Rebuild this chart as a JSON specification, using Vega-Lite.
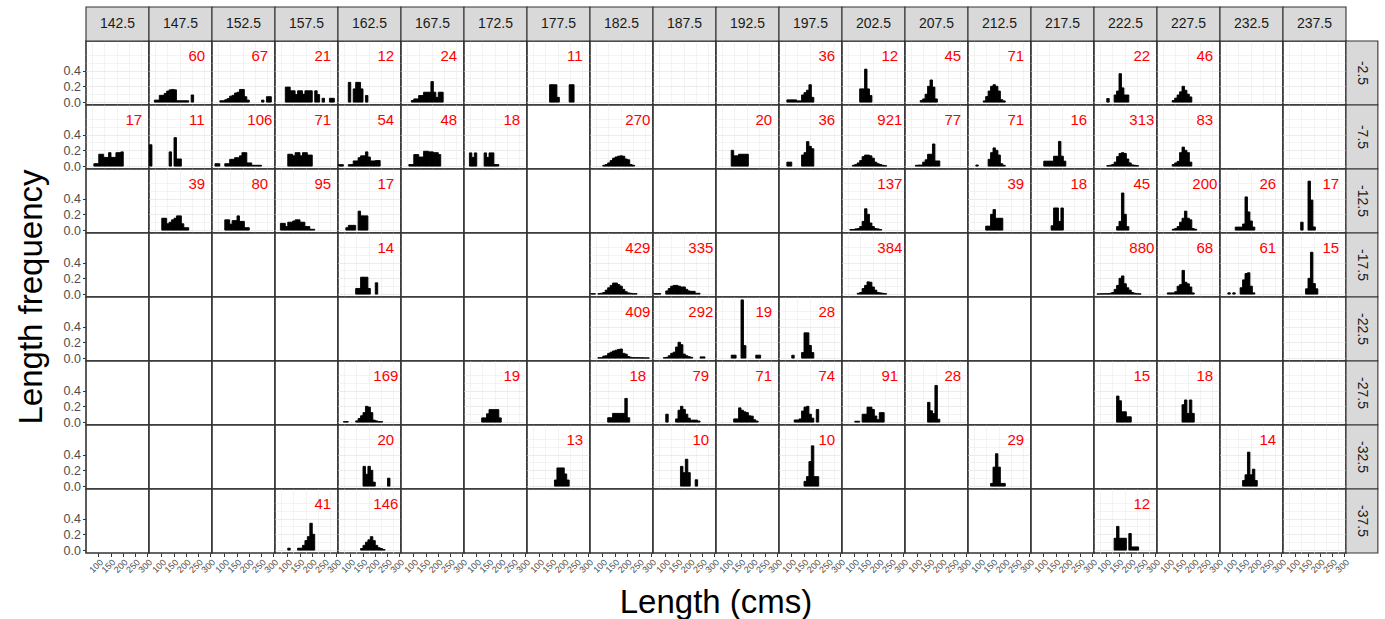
{
  "$schema": "https://vega.github.io/schema/vega-lite/v6.json",
  "background": "white",
  "padding": {"left": 15, "top": 5, "right": 4, "bottom": 4},
  "config": {
    "font": "Liberation Sans",
    "view": {"stroke": "#333333", "strokeWidth": 1.6, "fill": "white"},
    "axis": {"domain": false, "gridColor": "#EBEBEB", "tickColor": "#333333", "labelColor": "#4D4D4D", "labelFont": "Liberation Sans", "labelOverlap": false},
    "header": {"titleFont": "Liberation Sans", "titleColor": "#000000", "titleFontWeight": "normal", "titleFontSize": 33}
  },
  "data": {"values": [
    {"k":"t","lon":142.5,"lat":-2.5},{"k":"t","lon":147.5,"lat":-2.5},{"k":"t","lon":152.5,"lat":-2.5},{"k":"t","lon":157.5,"lat":-2.5},{"k":"t","lon":162.5,"lat":-2.5},
    {"k":"t","lon":167.5,"lat":-2.5},{"k":"t","lon":172.5,"lat":-2.5},{"k":"t","lon":177.5,"lat":-2.5},{"k":"t","lon":182.5,"lat":-2.5},{"k":"t","lon":187.5,"lat":-2.5},
    {"k":"t","lon":192.5,"lat":-2.5},{"k":"t","lon":197.5,"lat":-2.5},{"k":"t","lon":202.5,"lat":-2.5},{"k":"t","lon":207.5,"lat":-2.5},{"k":"t","lon":212.5,"lat":-2.5},
    {"k":"t","lon":217.5,"lat":-2.5},{"k":"t","lon":222.5,"lat":-2.5},{"k":"t","lon":227.5,"lat":-2.5},{"k":"t","lon":232.5,"lat":-2.5},{"k":"t","lon":237.5,"lat":-2.5},
    {"k":"r","lon":237.5,"lat":-2.5},{"k":"r","lon":237.5,"lat":-7.5},{"k":"r","lon":237.5,"lat":-12.5},{"k":"r","lon":237.5,"lat":-17.5},
    {"k":"r","lon":237.5,"lat":-22.5},{"k":"r","lon":237.5,"lat":-27.5},{"k":"r","lon":237.5,"lat":-32.5},{"k":"r","lon":237.5,"lat":-37.5},

    {"lon":147.5,"lat":-2.5,"n":60},{"lon":152.5,"lat":-2.5,"n":67},{"lon":157.5,"lat":-2.5,"n":21},{"lon":162.5,"lat":-2.5,"n":12},{"lon":167.5,"lat":-2.5,"n":24},{"lon":177.5,"lat":-2.5,"n":11},
    {"lon":197.5,"lat":-2.5,"n":36},{"lon":202.5,"lat":-2.5,"n":12},{"lon":207.5,"lat":-2.5,"n":45},{"lon":212.5,"lat":-2.5,"n":71},{"lon":222.5,"lat":-2.5,"n":22},{"lon":227.5,"lat":-2.5,"n":46},
    {"lon":142.5,"lat":-7.5,"n":17},{"lon":147.5,"lat":-7.5,"n":11},{"lon":152.5,"lat":-7.5,"n":106},{"lon":157.5,"lat":-7.5,"n":71},{"lon":162.5,"lat":-7.5,"n":54},{"lon":167.5,"lat":-7.5,"n":48},
    {"lon":172.5,"lat":-7.5,"n":18},{"lon":182.5,"lat":-7.5,"n":270},{"lon":192.5,"lat":-7.5,"n":20},{"lon":197.5,"lat":-7.5,"n":36},{"lon":202.5,"lat":-7.5,"n":921},{"lon":207.5,"lat":-7.5,"n":77},
    {"lon":212.5,"lat":-7.5,"n":71},{"lon":217.5,"lat":-7.5,"n":16},{"lon":222.5,"lat":-7.5,"n":313},{"lon":227.5,"lat":-7.5,"n":83},
    {"lon":147.5,"lat":-12.5,"n":39},{"lon":152.5,"lat":-12.5,"n":80},{"lon":157.5,"lat":-12.5,"n":95},{"lon":162.5,"lat":-12.5,"n":17},{"lon":202.5,"lat":-12.5,"n":137},{"lon":212.5,"lat":-12.5,"n":39},
    {"lon":217.5,"lat":-12.5,"n":18},{"lon":222.5,"lat":-12.5,"n":45},{"lon":227.5,"lat":-12.5,"n":200},{"lon":232.5,"lat":-12.5,"n":26},{"lon":237.5,"lat":-12.5,"n":17},
    {"lon":162.5,"lat":-17.5,"n":14},{"lon":182.5,"lat":-17.5,"n":429},{"lon":187.5,"lat":-17.5,"n":335},{"lon":202.5,"lat":-17.5,"n":384},{"lon":222.5,"lat":-17.5,"n":880},{"lon":227.5,"lat":-17.5,"n":68},
    {"lon":232.5,"lat":-17.5,"n":61},{"lon":237.5,"lat":-17.5,"n":15},
    {"lon":182.5,"lat":-22.5,"n":409},{"lon":187.5,"lat":-22.5,"n":292},{"lon":192.5,"lat":-22.5,"n":19},{"lon":197.5,"lat":-22.5,"n":28},
    {"lon":162.5,"lat":-27.5,"n":169},{"lon":172.5,"lat":-27.5,"n":19},{"lon":182.5,"lat":-27.5,"n":18},{"lon":187.5,"lat":-27.5,"n":79},{"lon":192.5,"lat":-27.5,"n":71},{"lon":197.5,"lat":-27.5,"n":74},
    {"lon":202.5,"lat":-27.5,"n":91},{"lon":207.5,"lat":-27.5,"n":28},{"lon":222.5,"lat":-27.5,"n":15},{"lon":227.5,"lat":-27.5,"n":18},
    {"lon":162.5,"lat":-32.5,"n":20},{"lon":177.5,"lat":-32.5,"n":13},{"lon":187.5,"lat":-32.5,"n":10},{"lon":197.5,"lat":-32.5,"n":10},{"lon":212.5,"lat":-32.5,"n":29},{"lon":232.5,"lat":-32.5,"n":14},
    {"lon":157.5,"lat":-37.5,"n":41},{"lon":162.5,"lat":-37.5,"n":146},{"lon":222.5,"lat":-37.5,"n":12},

    {"lon":147.5,"lat":-2.5,"len":75,"f":0.025},{"lon":147.5,"lat":-2.5,"len":85,"f":0.025},{"lon":147.5,"lat":-2.5,"len":95,"f":0.085},{"lon":147.5,"lat":-2.5,"len":105,"f":0.085},{"lon":147.5,"lat":-2.5,"len":115,"f":0.11},{"lon":147.5,"lat":-2.5,"len":125,"f":0.14},{"lon":147.5,"lat":-2.5,"len":135,"f":0.155},{"lon":147.5,"lat":-2.5,"len":145,"f":0.16},{"lon":147.5,"lat":-2.5,"len":155,"f":0.155},{"lon":147.5,"lat":-2.5,"len":165,"f":0.017},{"lon":147.5,"lat":-2.5,"len":175,"f":0.017},{"lon":147.5,"lat":-2.5,"len":185,"f":0.017},{"lon":147.5,"lat":-2.5,"len":195,"f":0.017},{"lon":147.5,"lat":-2.5,"len":205,"f":0.017},{"lon":147.5,"lat":-2.5,"len":225,"f":0.09},
    {"lon":152.5,"lat":-2.5,"len":85,"f":0.017},{"lon":152.5,"lat":-2.5,"len":95,"f":0.017},{"lon":152.5,"lat":-2.5,"len":105,"f":0.03},{"lon":152.5,"lat":-2.5,"len":115,"f":0.045},{"lon":152.5,"lat":-2.5,"len":125,"f":0.075},{"lon":152.5,"lat":-2.5,"len":135,"f":0.085},{"lon":152.5,"lat":-2.5,"len":145,"f":0.115},{"lon":152.5,"lat":-2.5,"len":155,"f":0.125},{"lon":152.5,"lat":-2.5,"len":165,"f":0.16},{"lon":152.5,"lat":-2.5,"len":175,"f":0.16},{"lon":152.5,"lat":-2.5,"len":185,"f":0.068},{"lon":152.5,"lat":-2.5,"len":195,"f":0.025},{"lon":152.5,"lat":-2.5,"len":255,"f":0.025},{"lon":152.5,"lat":-2.5,"len":275,"f":0.068},{"lon":152.5,"lat":-2.5,"len":285,"f":0.068},
    {"lon":157.5,"lat":-2.5,"len":95,"f":0.19},{"lon":157.5,"lat":-2.5,"len":105,"f":0.19},{"lon":157.5,"lat":-2.5,"len":115,"f":0.143},{"lon":157.5,"lat":-2.5,"len":125,"f":0.143},{"lon":157.5,"lat":-2.5,"len":135,"f":0.095},{"lon":157.5,"lat":-2.5,"len":145,"f":0.143},{"lon":157.5,"lat":-2.5,"len":155,"f":0.143},{"lon":157.5,"lat":-2.5,"len":165,"f":0.1},{"lon":157.5,"lat":-2.5,"len":175,"f":0.143},{"lon":157.5,"lat":-2.5,"len":185,"f":0.143},{"lon":157.5,"lat":-2.5,"len":195,"f":0.143},{"lon":157.5,"lat":-2.5,"len":215,"f":0.143},{"lon":157.5,"lat":-2.5,"len":225,"f":0.095},{"lon":157.5,"lat":-2.5,"len":245,"f":0.048},{"lon":157.5,"lat":-2.5,"len":275,"f":0.048},{"lon":157.5,"lat":-2.5,"len":285,"f":0.048},
    {"lon":162.5,"lat":-2.5,"len":95,"f":0.25},{"lon":162.5,"lat":-2.5,"len":115,"f":0.167},{"lon":162.5,"lat":-2.5,"len":125,"f":0.25},{"lon":162.5,"lat":-2.5,"len":135,"f":0.25},{"lon":162.5,"lat":-2.5,"len":145,"f":0.167},{"lon":162.5,"lat":-2.5,"len":165,"f":0.083},
    {"lon":167.5,"lat":-2.5,"len":95,"f":0.02},{"lon":167.5,"lat":-2.5,"len":105,"f":0.04},{"lon":167.5,"lat":-2.5,"len":115,"f":0.04},{"lon":167.5,"lat":-2.5,"len":125,"f":0.083},{"lon":167.5,"lat":-2.5,"len":135,"f":0.083},{"lon":167.5,"lat":-2.5,"len":145,"f":0.125},{"lon":167.5,"lat":-2.5,"len":155,"f":0.125},{"lon":167.5,"lat":-2.5,"len":165,"f":0.125},{"lon":167.5,"lat":-2.5,"len":175,"f":0.26},{"lon":167.5,"lat":-2.5,"len":185,"f":0.125},{"lon":167.5,"lat":-2.5,"len":195,"f":0.06},{"lon":167.5,"lat":-2.5,"len":205,"f":0.125},{"lon":167.5,"lat":-2.5,"len":215,"f":0.125},
    {"lon":177.5,"lat":-2.5,"len":145,"f":0.22},{"lon":177.5,"lat":-2.5,"len":155,"f":0.22},{"lon":177.5,"lat":-2.5,"len":165,"f":0.22},{"lon":177.5,"lat":-2.5,"len":175,"f":0.06},{"lon":177.5,"lat":-2.5,"len":225,"f":0.22},{"lon":177.5,"lat":-2.5,"len":235,"f":0.22},
    {"lon":197.5,"lat":-2.5,"len":85,"f":0.028},{"lon":197.5,"lat":-2.5,"len":95,"f":0.028},{"lon":197.5,"lat":-2.5,"len":105,"f":0.028},{"lon":197.5,"lat":-2.5,"len":115,"f":0.028},{"lon":197.5,"lat":-2.5,"len":125,"f":0.015},{"lon":197.5,"lat":-2.5,"len":135,"f":0.015},{"lon":197.5,"lat":-2.5,"len":145,"f":0.09},{"lon":197.5,"lat":-2.5,"len":155,"f":0.12},{"lon":197.5,"lat":-2.5,"len":165,"f":0.15},{"lon":197.5,"lat":-2.5,"len":175,"f":0.22},{"lon":197.5,"lat":-2.5,"len":185,"f":0.06},
    {"lon":202.5,"lat":-2.5,"len":125,"f":0.167},{"lon":202.5,"lat":-2.5,"len":135,"f":0.167},{"lon":202.5,"lat":-2.5,"len":145,"f":0.417},{"lon":202.5,"lat":-2.5,"len":155,"f":0.167},{"lon":202.5,"lat":-2.5,"len":165,"f":0.083},
    {"lon":207.5,"lat":-2.5,"len":115,"f":0.02},{"lon":207.5,"lat":-2.5,"len":125,"f":0.04},{"lon":207.5,"lat":-2.5,"len":135,"f":0.1},{"lon":207.5,"lat":-2.5,"len":145,"f":0.2},{"lon":207.5,"lat":-2.5,"len":155,"f":0.28},{"lon":207.5,"lat":-2.5,"len":165,"f":0.19},{"lon":207.5,"lat":-2.5,"len":175,"f":0.04},
    {"lon":212.5,"lat":-2.5,"len":115,"f":0.015},{"lon":212.5,"lat":-2.5,"len":125,"f":0.07},{"lon":212.5,"lat":-2.5,"len":135,"f":0.14},{"lon":212.5,"lat":-2.5,"len":145,"f":0.2},{"lon":212.5,"lat":-2.5,"len":155,"f":0.22},{"lon":212.5,"lat":-2.5,"len":165,"f":0.2},{"lon":212.5,"lat":-2.5,"len":175,"f":0.14},{"lon":212.5,"lat":-2.5,"len":185,"f":0.03},{"lon":212.5,"lat":-2.5,"len":195,"f":0.015},
    {"lon":222.5,"lat":-2.5,"len":105,"f":0.045},{"lon":222.5,"lat":-2.5,"len":135,"f":0.09},{"lon":222.5,"lat":-2.5,"len":145,"f":0.14},{"lon":222.5,"lat":-2.5,"len":155,"f":0.36},{"lon":222.5,"lat":-2.5,"len":165,"f":0.18},{"lon":222.5,"lat":-2.5,"len":175,"f":0.09},{"lon":222.5,"lat":-2.5,"len":185,"f":0.09},
    {"lon":227.5,"lat":-2.5,"len":115,"f":0.02},{"lon":227.5,"lat":-2.5,"len":125,"f":0.05},{"lon":227.5,"lat":-2.5,"len":135,"f":0.09},{"lon":227.5,"lat":-2.5,"len":145,"f":0.13},{"lon":227.5,"lat":-2.5,"len":155,"f":0.2},{"lon":227.5,"lat":-2.5,"len":165,"f":0.15},{"lon":227.5,"lat":-2.5,"len":175,"f":0.1},{"lon":227.5,"lat":-2.5,"len":185,"f":0.065},

    {"lon":142.5,"lat":-7.5,"len":85,"f":0.03},{"lon":142.5,"lat":-7.5,"len":95,"f":0.03},{"lon":142.5,"lat":-7.5,"len":105,"f":0.15},{"lon":142.5,"lat":-7.5,"len":115,"f":0.15},{"lon":142.5,"lat":-7.5,"len":125,"f":0.11},{"lon":142.5,"lat":-7.5,"len":135,"f":0.11},{"lon":142.5,"lat":-7.5,"len":145,"f":0.17},{"lon":142.5,"lat":-7.5,"len":155,"f":0.11},{"lon":142.5,"lat":-7.5,"len":165,"f":0.11},{"lon":142.5,"lat":-7.5,"len":175,"f":0.17},{"lon":142.5,"lat":-7.5,"len":185,"f":0.17},{"lon":142.5,"lat":-7.5,"len":195,"f":0.18},
    {"lon":147.5,"lat":-7.5,"len":55,"f":0.27},{"lon":147.5,"lat":-7.5,"len":135,"f":0.18},{"lon":147.5,"lat":-7.5,"len":155,"f":0.36},{"lon":147.5,"lat":-7.5,"len":165,"f":0.09},{"lon":147.5,"lat":-7.5,"len":175,"f":0.09},
    {"lon":152.5,"lat":-7.5,"len":65,"f":0.03},{"lon":152.5,"lat":-7.5,"len":75,"f":0.03},{"lon":152.5,"lat":-7.5,"len":105,"f":0.03},{"lon":152.5,"lat":-7.5,"len":115,"f":0.03},{"lon":152.5,"lat":-7.5,"len":125,"f":0.085},{"lon":152.5,"lat":-7.5,"len":135,"f":0.085},{"lon":152.5,"lat":-7.5,"len":145,"f":0.106},{"lon":152.5,"lat":-7.5,"len":155,"f":0.106},{"lon":152.5,"lat":-7.5,"len":165,"f":0.13},{"lon":152.5,"lat":-7.5,"len":175,"f":0.17},{"lon":152.5,"lat":-7.5,"len":185,"f":0.17},{"lon":152.5,"lat":-7.5,"len":195,"f":0.04},{"lon":152.5,"lat":-7.5,"len":205,"f":0.04},{"lon":152.5,"lat":-7.5,"len":215,"f":0.01},{"lon":152.5,"lat":-7.5,"len":225,"f":0.01},{"lon":152.5,"lat":-7.5,"len":235,"f":0.01},{"lon":152.5,"lat":-7.5,"len":245,"f":0.01},
    {"lon":157.5,"lat":-7.5,"len":105,"f":0.15},{"lon":157.5,"lat":-7.5,"len":115,"f":0.15},{"lon":157.5,"lat":-7.5,"len":125,"f":0.13},{"lon":157.5,"lat":-7.5,"len":135,"f":0.17},{"lon":157.5,"lat":-7.5,"len":145,"f":0.17},{"lon":157.5,"lat":-7.5,"len":155,"f":0.13},{"lon":157.5,"lat":-7.5,"len":165,"f":0.17},{"lon":157.5,"lat":-7.5,"len":175,"f":0.17},{"lon":157.5,"lat":-7.5,"len":185,"f":0.14},{"lon":157.5,"lat":-7.5,"len":195,"f":0.14},
    {"lon":162.5,"lat":-7.5,"len":55,"f":0.018},{"lon":162.5,"lat":-7.5,"len":65,"f":0.018},{"lon":162.5,"lat":-7.5,"len":95,"f":0.018},{"lon":162.5,"lat":-7.5,"len":105,"f":0.02},{"lon":162.5,"lat":-7.5,"len":115,"f":0.065},{"lon":162.5,"lat":-7.5,"len":125,"f":0.065},{"lon":162.5,"lat":-7.5,"len":135,"f":0.106},{"lon":162.5,"lat":-7.5,"len":145,"f":0.13},{"lon":162.5,"lat":-7.5,"len":155,"f":0.13},{"lon":162.5,"lat":-7.5,"len":165,"f":0.18},{"lon":162.5,"lat":-7.5,"len":175,"f":0.115},{"lon":162.5,"lat":-7.5,"len":185,"f":0.065},{"lon":162.5,"lat":-7.5,"len":195,"f":0.065},{"lon":162.5,"lat":-7.5,"len":205,"f":0.07},{"lon":162.5,"lat":-7.5,"len":215,"f":0.07},
    {"lon":167.5,"lat":-7.5,"len":85,"f":0.02},{"lon":167.5,"lat":-7.5,"len":95,"f":0.02},{"lon":167.5,"lat":-7.5,"len":105,"f":0.146},{"lon":167.5,"lat":-7.5,"len":115,"f":0.146},{"lon":167.5,"lat":-7.5,"len":125,"f":0.115},{"lon":167.5,"lat":-7.5,"len":135,"f":0.115},{"lon":167.5,"lat":-7.5,"len":145,"f":0.188},{"lon":167.5,"lat":-7.5,"len":155,"f":0.188},{"lon":167.5,"lat":-7.5,"len":165,"f":0.18},{"lon":167.5,"lat":-7.5,"len":175,"f":0.18},{"lon":167.5,"lat":-7.5,"len":185,"f":0.17},{"lon":167.5,"lat":-7.5,"len":195,"f":0.17},{"lon":167.5,"lat":-7.5,"len":205,"f":0.146},
    {"lon":172.5,"lat":-7.5,"len":75,"f":0.167},{"lon":172.5,"lat":-7.5,"len":85,"f":0.11},{"lon":172.5,"lat":-7.5,"len":95,"f":0.167},{"lon":172.5,"lat":-7.5,"len":135,"f":0.167},{"lon":172.5,"lat":-7.5,"len":145,"f":0.11},{"lon":172.5,"lat":-7.5,"len":155,"f":0.167},{"lon":172.5,"lat":-7.5,"len":165,"f":0.167},{"lon":172.5,"lat":-7.5,"len":175,"f":0.02},{"lon":172.5,"lat":-7.5,"len":185,"f":0.02},
    {"lon":182.5,"lat":-7.5,"len":105,"f":0.01},{"lon":182.5,"lat":-7.5,"len":115,"f":0.02},{"lon":182.5,"lat":-7.5,"len":125,"f":0.04},{"lon":182.5,"lat":-7.5,"len":135,"f":0.07},{"lon":182.5,"lat":-7.5,"len":145,"f":0.1},{"lon":182.5,"lat":-7.5,"len":155,"f":0.115},{"lon":182.5,"lat":-7.5,"len":165,"f":0.125},{"lon":182.5,"lat":-7.5,"len":175,"f":0.13},{"lon":182.5,"lat":-7.5,"len":185,"f":0.125},{"lon":182.5,"lat":-7.5,"len":195,"f":0.09},{"lon":182.5,"lat":-7.5,"len":205,"f":0.08},{"lon":182.5,"lat":-7.5,"len":215,"f":0.02},{"lon":182.5,"lat":-7.5,"len":225,"f":0.01},
    {"lon":192.5,"lat":-7.5,"len":115,"f":0.2},{"lon":192.5,"lat":-7.5,"len":125,"f":0.13},{"lon":192.5,"lat":-7.5,"len":135,"f":0.13},{"lon":192.5,"lat":-7.5,"len":145,"f":0.15},{"lon":192.5,"lat":-7.5,"len":155,"f":0.15},{"lon":192.5,"lat":-7.5,"len":165,"f":0.15},{"lon":192.5,"lat":-7.5,"len":175,"f":0.15},
    {"lon":197.5,"lat":-7.5,"len":85,"f":0.05},{"lon":197.5,"lat":-7.5,"len":95,"f":0.05},{"lon":197.5,"lat":-7.5,"len":145,"f":0.14},{"lon":197.5,"lat":-7.5,"len":155,"f":0.17},{"lon":197.5,"lat":-7.5,"len":165,"f":0.31},{"lon":197.5,"lat":-7.5,"len":175,"f":0.25},{"lon":197.5,"lat":-7.5,"len":185,"f":0.22},
    {"lon":202.5,"lat":-7.5,"len":95,"f":0.01},{"lon":202.5,"lat":-7.5,"len":105,"f":0.02},{"lon":202.5,"lat":-7.5,"len":115,"f":0.04},{"lon":202.5,"lat":-7.5,"len":125,"f":0.07},{"lon":202.5,"lat":-7.5,"len":135,"f":0.12},{"lon":202.5,"lat":-7.5,"len":145,"f":0.14},{"lon":202.5,"lat":-7.5,"len":155,"f":0.14},{"lon":202.5,"lat":-7.5,"len":165,"f":0.13},{"lon":202.5,"lat":-7.5,"len":175,"f":0.1},{"lon":202.5,"lat":-7.5,"len":185,"f":0.05},{"lon":202.5,"lat":-7.5,"len":195,"f":0.03},{"lon":202.5,"lat":-7.5,"len":205,"f":0.02},{"lon":202.5,"lat":-7.5,"len":215,"f":0.01},{"lon":202.5,"lat":-7.5,"len":225,"f":0.005},
    {"lon":207.5,"lat":-7.5,"len":95,"f":0.01},{"lon":207.5,"lat":-7.5,"len":105,"f":0.013},{"lon":207.5,"lat":-7.5,"len":115,"f":0.013},{"lon":207.5,"lat":-7.5,"len":125,"f":0.05},{"lon":207.5,"lat":-7.5,"len":135,"f":0.08},{"lon":207.5,"lat":-7.5,"len":145,"f":0.15},{"lon":207.5,"lat":-7.5,"len":155,"f":0.15},{"lon":207.5,"lat":-7.5,"len":165,"f":0.28},{"lon":207.5,"lat":-7.5,"len":175,"f":0.065},{"lon":207.5,"lat":-7.5,"len":185,"f":0.065},
    {"lon":212.5,"lat":-7.5,"len":85,"f":0.014},{"lon":212.5,"lat":-7.5,"len":135,"f":0.085},{"lon":212.5,"lat":-7.5,"len":145,"f":0.17},{"lon":212.5,"lat":-7.5,"len":155,"f":0.23},{"lon":212.5,"lat":-7.5,"len":165,"f":0.2},{"lon":212.5,"lat":-7.5,"len":175,"f":0.14},{"lon":212.5,"lat":-7.5,"len":185,"f":0.03},{"lon":212.5,"lat":-7.5,"len":195,"f":0.01},
    {"lon":217.5,"lat":-7.5,"len":105,"f":0.0625},{"lon":217.5,"lat":-7.5,"len":115,"f":0.0625},{"lon":217.5,"lat":-7.5,"len":125,"f":0.0625},{"lon":217.5,"lat":-7.5,"len":135,"f":0.0625},{"lon":217.5,"lat":-7.5,"len":145,"f":0.125},{"lon":217.5,"lat":-7.5,"len":155,"f":0.125},{"lon":217.5,"lat":-7.5,"len":165,"f":0.3125},{"lon":217.5,"lat":-7.5,"len":175,"f":0.125},{"lon":217.5,"lat":-7.5,"len":185,"f":0.0625},
    {"lon":222.5,"lat":-7.5,"len":105,"f":0.005},{"lon":222.5,"lat":-7.5,"len":115,"f":0.01},{"lon":222.5,"lat":-7.5,"len":125,"f":0.02},{"lon":222.5,"lat":-7.5,"len":135,"f":0.05},{"lon":222.5,"lat":-7.5,"len":145,"f":0.12},{"lon":222.5,"lat":-7.5,"len":155,"f":0.16},{"lon":222.5,"lat":-7.5,"len":165,"f":0.17},{"lon":222.5,"lat":-7.5,"len":175,"f":0.16},{"lon":222.5,"lat":-7.5,"len":185,"f":0.09},{"lon":222.5,"lat":-7.5,"len":195,"f":0.04},{"lon":222.5,"lat":-7.5,"len":205,"f":0.015},{"lon":222.5,"lat":-7.5,"len":215,"f":0.01},{"lon":222.5,"lat":-7.5,"len":225,"f":0.005},
    {"lon":227.5,"lat":-7.5,"len":115,"f":0.02},{"lon":227.5,"lat":-7.5,"len":125,"f":0.04},{"lon":227.5,"lat":-7.5,"len":135,"f":0.06},{"lon":227.5,"lat":-7.5,"len":145,"f":0.17},{"lon":227.5,"lat":-7.5,"len":155,"f":0.24},{"lon":227.5,"lat":-7.5,"len":165,"f":0.2},{"lon":227.5,"lat":-7.5,"len":175,"f":0.17},{"lon":227.5,"lat":-7.5,"len":185,"f":0.05},

    {"lon":147.5,"lat":-12.5,"len":105,"f":0.15},{"lon":147.5,"lat":-12.5,"len":115,"f":0.15},{"lon":147.5,"lat":-12.5,"len":125,"f":0.08},{"lon":147.5,"lat":-12.5,"len":135,"f":0.1},{"lon":147.5,"lat":-12.5,"len":145,"f":0.13},{"lon":147.5,"lat":-12.5,"len":155,"f":0.15},{"lon":147.5,"lat":-12.5,"len":165,"f":0.18},{"lon":147.5,"lat":-12.5,"len":175,"f":0.18},{"lon":147.5,"lat":-12.5,"len":185,"f":0.08},{"lon":147.5,"lat":-12.5,"len":195,"f":0.03},{"lon":147.5,"lat":-12.5,"len":205,"f":0.03},
    {"lon":152.5,"lat":-12.5,"len":105,"f":0.13},{"lon":152.5,"lat":-12.5,"len":115,"f":0.13},{"lon":152.5,"lat":-12.5,"len":125,"f":0.075},{"lon":152.5,"lat":-12.5,"len":135,"f":0.12},{"lon":152.5,"lat":-12.5,"len":145,"f":0.12},{"lon":152.5,"lat":-12.5,"len":155,"f":0.18},{"lon":152.5,"lat":-12.5,"len":165,"f":0.11},{"lon":152.5,"lat":-12.5,"len":175,"f":0.11},{"lon":152.5,"lat":-12.5,"len":185,"f":0.03},{"lon":152.5,"lat":-12.5,"len":195,"f":0.03},
    {"lon":157.5,"lat":-12.5,"len":75,"f":0.085},{"lon":157.5,"lat":-12.5,"len":85,"f":0.085},{"lon":157.5,"lat":-12.5,"len":95,"f":0.045},{"lon":157.5,"lat":-12.5,"len":105,"f":0.1},{"lon":157.5,"lat":-12.5,"len":115,"f":0.1},{"lon":157.5,"lat":-12.5,"len":125,"f":0.115},{"lon":157.5,"lat":-12.5,"len":135,"f":0.13},{"lon":157.5,"lat":-12.5,"len":145,"f":0.13},{"lon":157.5,"lat":-12.5,"len":155,"f":0.1},{"lon":157.5,"lat":-12.5,"len":165,"f":0.1},{"lon":157.5,"lat":-12.5,"len":175,"f":0.045},{"lon":157.5,"lat":-12.5,"len":185,"f":0.045},{"lon":157.5,"lat":-12.5,"len":195,"f":0.01},{"lon":157.5,"lat":-12.5,"len":205,"f":0.01},
    {"lon":162.5,"lat":-12.5,"len":85,"f":0.03},{"lon":162.5,"lat":-12.5,"len":95,"f":0.06},{"lon":162.5,"lat":-12.5,"len":105,"f":0.06},{"lon":162.5,"lat":-12.5,"len":115,"f":0.06},{"lon":162.5,"lat":-12.5,"len":135,"f":0.24},{"lon":162.5,"lat":-12.5,"len":145,"f":0.18},{"lon":162.5,"lat":-12.5,"len":155,"f":0.18},{"lon":162.5,"lat":-12.5,"len":165,"f":0.18},
    {"lon":202.5,"lat":-12.5,"len":85,"f":0.007},{"lon":202.5,"lat":-12.5,"len":95,"f":0.007},{"lon":202.5,"lat":-12.5,"len":105,"f":0.015},{"lon":202.5,"lat":-12.5,"len":115,"f":0.02},{"lon":202.5,"lat":-12.5,"len":125,"f":0.045},{"lon":202.5,"lat":-12.5,"len":135,"f":0.11},{"lon":202.5,"lat":-12.5,"len":145,"f":0.27},{"lon":202.5,"lat":-12.5,"len":155,"f":0.2},{"lon":202.5,"lat":-12.5,"len":165,"f":0.09},{"lon":202.5,"lat":-12.5,"len":175,"f":0.045},{"lon":202.5,"lat":-12.5,"len":185,"f":0.02},{"lon":202.5,"lat":-12.5,"len":195,"f":0.015},{"lon":202.5,"lat":-12.5,"len":205,"f":0.007},
    {"lon":212.5,"lat":-12.5,"len":125,"f":0.05},{"lon":212.5,"lat":-12.5,"len":135,"f":0.05},{"lon":212.5,"lat":-12.5,"len":145,"f":0.2},{"lon":212.5,"lat":-12.5,"len":155,"f":0.26},{"lon":212.5,"lat":-12.5,"len":165,"f":0.15},{"lon":212.5,"lat":-12.5,"len":175,"f":0.15},{"lon":212.5,"lat":-12.5,"len":185,"f":0.15},
    {"lon":217.5,"lat":-12.5,"len":135,"f":0.055},{"lon":217.5,"lat":-12.5,"len":145,"f":0.28},{"lon":217.5,"lat":-12.5,"len":155,"f":0.28},{"lon":217.5,"lat":-12.5,"len":165,"f":0.11},{"lon":217.5,"lat":-12.5,"len":175,"f":0.28},
    {"lon":222.5,"lat":-12.5,"len":145,"f":0.044},{"lon":222.5,"lat":-12.5,"len":155,"f":0.11},{"lon":222.5,"lat":-12.5,"len":165,"f":0.47},{"lon":222.5,"lat":-12.5,"len":175,"f":0.2},{"lon":222.5,"lat":-12.5,"len":185,"f":0.044},
    {"lon":227.5,"lat":-12.5,"len":115,"f":0.01},{"lon":227.5,"lat":-12.5,"len":125,"f":0.02},{"lon":227.5,"lat":-12.5,"len":135,"f":0.045},{"lon":227.5,"lat":-12.5,"len":145,"f":0.1},{"lon":227.5,"lat":-12.5,"len":155,"f":0.15},{"lon":227.5,"lat":-12.5,"len":165,"f":0.24},{"lon":227.5,"lat":-12.5,"len":175,"f":0.15},{"lon":227.5,"lat":-12.5,"len":185,"f":0.13},{"lon":227.5,"lat":-12.5,"len":195,"f":0.02},{"lon":227.5,"lat":-12.5,"len":205,"f":0.01},
    {"lon":232.5,"lat":-12.5,"len":115,"f":0.038},{"lon":232.5,"lat":-12.5,"len":125,"f":0.038},{"lon":232.5,"lat":-12.5,"len":135,"f":0.038},{"lon":232.5,"lat":-12.5,"len":145,"f":0.077},{"lon":232.5,"lat":-12.5,"len":155,"f":0.42},{"lon":232.5,"lat":-12.5,"len":165,"f":0.23},{"lon":232.5,"lat":-12.5,"len":175,"f":0.115},{"lon":232.5,"lat":-12.5,"len":185,"f":0.038},
    {"lon":237.5,"lat":-12.5,"len":125,"f":0.1},{"lon":237.5,"lat":-12.5,"len":155,"f":0.62},{"lon":237.5,"lat":-12.5,"len":165,"f":0.38},{"lon":237.5,"lat":-12.5,"len":175,"f":0.04},

    {"lon":162.5,"lat":-17.5,"len":125,"f":0.071},{"lon":162.5,"lat":-17.5,"len":135,"f":0.071},{"lon":162.5,"lat":-17.5,"len":145,"f":0.214},{"lon":162.5,"lat":-17.5,"len":155,"f":0.214},{"lon":162.5,"lat":-17.5,"len":165,"f":0.214},{"lon":162.5,"lat":-17.5,"len":175,"f":0.071},{"lon":162.5,"lat":-17.5,"len":205,"f":0.143},
    {"lon":182.5,"lat":-17.5,"len":55,"f":0.005},{"lon":182.5,"lat":-17.5,"len":65,"f":0.005},{"lon":182.5,"lat":-17.5,"len":85,"f":0.005},{"lon":182.5,"lat":-17.5,"len":95,"f":0.01},{"lon":182.5,"lat":-17.5,"len":105,"f":0.02},{"lon":182.5,"lat":-17.5,"len":115,"f":0.05},{"lon":182.5,"lat":-17.5,"len":125,"f":0.08},{"lon":182.5,"lat":-17.5,"len":135,"f":0.11},{"lon":182.5,"lat":-17.5,"len":145,"f":0.14},{"lon":182.5,"lat":-17.5,"len":155,"f":0.14},{"lon":182.5,"lat":-17.5,"len":165,"f":0.12},{"lon":182.5,"lat":-17.5,"len":175,"f":0.1},{"lon":182.5,"lat":-17.5,"len":185,"f":0.06},{"lon":182.5,"lat":-17.5,"len":195,"f":0.03},{"lon":182.5,"lat":-17.5,"len":205,"f":0.015},{"lon":182.5,"lat":-17.5,"len":215,"f":0.01},{"lon":182.5,"lat":-17.5,"len":225,"f":0.005},{"lon":182.5,"lat":-17.5,"len":235,"f":0.005},
    {"lon":187.5,"lat":-17.5,"len":55,"f":0.005},{"lon":187.5,"lat":-17.5,"len":65,"f":0.005},{"lon":187.5,"lat":-17.5,"len":75,"f":0.005},{"lon":187.5,"lat":-17.5,"len":105,"f":0.04},{"lon":187.5,"lat":-17.5,"len":115,"f":0.07},{"lon":187.5,"lat":-17.5,"len":125,"f":0.1},{"lon":187.5,"lat":-17.5,"len":135,"f":0.11},{"lon":187.5,"lat":-17.5,"len":145,"f":0.11},{"lon":187.5,"lat":-17.5,"len":155,"f":0.1},{"lon":187.5,"lat":-17.5,"len":165,"f":0.09},{"lon":187.5,"lat":-17.5,"len":175,"f":0.09},{"lon":187.5,"lat":-17.5,"len":185,"f":0.06},{"lon":187.5,"lat":-17.5,"len":195,"f":0.04},{"lon":187.5,"lat":-17.5,"len":205,"f":0.035},{"lon":187.5,"lat":-17.5,"len":215,"f":0.035},{"lon":187.5,"lat":-17.5,"len":225,"f":0.01},{"lon":187.5,"lat":-17.5,"len":235,"f":0.01},
    {"lon":202.5,"lat":-17.5,"len":115,"f":0.01},{"lon":202.5,"lat":-17.5,"len":125,"f":0.02},{"lon":202.5,"lat":-17.5,"len":135,"f":0.07},{"lon":202.5,"lat":-17.5,"len":145,"f":0.11},{"lon":202.5,"lat":-17.5,"len":155,"f":0.155},{"lon":202.5,"lat":-17.5,"len":165,"f":0.15},{"lon":202.5,"lat":-17.5,"len":175,"f":0.09},{"lon":202.5,"lat":-17.5,"len":185,"f":0.05},{"lon":202.5,"lat":-17.5,"len":195,"f":0.02},{"lon":202.5,"lat":-17.5,"len":205,"f":0.015},{"lon":202.5,"lat":-17.5,"len":215,"f":0.01},{"lon":202.5,"lat":-17.5,"len":225,"f":0.005},
    {"lon":222.5,"lat":-17.5,"len":65,"f":0.002},{"lon":222.5,"lat":-17.5,"len":75,"f":0.003},{"lon":222.5,"lat":-17.5,"len":85,"f":0.004},{"lon":222.5,"lat":-17.5,"len":95,"f":0.005},{"lon":222.5,"lat":-17.5,"len":105,"f":0.005},{"lon":222.5,"lat":-17.5,"len":115,"f":0.01},{"lon":222.5,"lat":-17.5,"len":125,"f":0.02},{"lon":222.5,"lat":-17.5,"len":135,"f":0.06},{"lon":222.5,"lat":-17.5,"len":145,"f":0.11},{"lon":222.5,"lat":-17.5,"len":155,"f":0.2},{"lon":222.5,"lat":-17.5,"len":165,"f":0.23},{"lon":222.5,"lat":-17.5,"len":175,"f":0.13},{"lon":222.5,"lat":-17.5,"len":185,"f":0.08},{"lon":222.5,"lat":-17.5,"len":195,"f":0.05},{"lon":222.5,"lat":-17.5,"len":205,"f":0.02},{"lon":222.5,"lat":-17.5,"len":215,"f":0.01},{"lon":222.5,"lat":-17.5,"len":225,"f":0.005},{"lon":222.5,"lat":-17.5,"len":235,"f":0.003},
    {"lon":227.5,"lat":-17.5,"len":95,"f":0.015},{"lon":227.5,"lat":-17.5,"len":105,"f":0.015},{"lon":227.5,"lat":-17.5,"len":115,"f":0.015},{"lon":227.5,"lat":-17.5,"len":125,"f":0.03},{"lon":227.5,"lat":-17.5,"len":135,"f":0.1},{"lon":227.5,"lat":-17.5,"len":145,"f":0.12},{"lon":227.5,"lat":-17.5,"len":155,"f":0.3},{"lon":227.5,"lat":-17.5,"len":165,"f":0.15},{"lon":227.5,"lat":-17.5,"len":175,"f":0.13},{"lon":227.5,"lat":-17.5,"len":185,"f":0.09},{"lon":227.5,"lat":-17.5,"len":195,"f":0.015},
    {"lon":232.5,"lat":-17.5,"len":85,"f":0.016},{"lon":232.5,"lat":-17.5,"len":105,"f":0.016},{"lon":232.5,"lat":-17.5,"len":135,"f":0.08},{"lon":232.5,"lat":-17.5,"len":145,"f":0.18},{"lon":232.5,"lat":-17.5,"len":155,"f":0.26},{"lon":232.5,"lat":-17.5,"len":165,"f":0.27},{"lon":232.5,"lat":-17.5,"len":175,"f":0.1},{"lon":232.5,"lat":-17.5,"len":185,"f":0.016},
    {"lon":237.5,"lat":-17.5,"len":145,"f":0.067},{"lon":237.5,"lat":-17.5,"len":155,"f":0.2},{"lon":237.5,"lat":-17.5,"len":165,"f":0.53},{"lon":237.5,"lat":-17.5,"len":175,"f":0.133},{"lon":237.5,"lat":-17.5,"len":185,"f":0.067},

    {"lon":182.5,"lat":-22.5,"len":85,"f":0.005},{"lon":182.5,"lat":-22.5,"len":95,"f":0.005},{"lon":182.5,"lat":-22.5,"len":105,"f":0.025},{"lon":182.5,"lat":-22.5,"len":115,"f":0.03},{"lon":182.5,"lat":-22.5,"len":125,"f":0.06},{"lon":182.5,"lat":-22.5,"len":135,"f":0.075},{"lon":182.5,"lat":-22.5,"len":145,"f":0.09},{"lon":182.5,"lat":-22.5,"len":155,"f":0.1},{"lon":182.5,"lat":-22.5,"len":165,"f":0.11},{"lon":182.5,"lat":-22.5,"len":175,"f":0.115},{"lon":182.5,"lat":-22.5,"len":185,"f":0.06},{"lon":182.5,"lat":-22.5,"len":195,"f":0.05},{"lon":182.5,"lat":-22.5,"len":205,"f":0.02},{"lon":182.5,"lat":-22.5,"len":215,"f":0.01},{"lon":182.5,"lat":-22.5,"len":225,"f":0.005},{"lon":182.5,"lat":-22.5,"len":235,"f":0.005},{"lon":182.5,"lat":-22.5,"len":245,"f":0.005},{"lon":182.5,"lat":-22.5,"len":255,"f":0.003},{"lon":182.5,"lat":-22.5,"len":265,"f":0.003},{"lon":182.5,"lat":-22.5,"len":275,"f":0.002},{"lon":182.5,"lat":-22.5,"len":285,"f":0.002},
    {"lon":187.5,"lat":-22.5,"len":95,"f":0.005},{"lon":187.5,"lat":-22.5,"len":105,"f":0.01},{"lon":187.5,"lat":-22.5,"len":115,"f":0.03},{"lon":187.5,"lat":-22.5,"len":125,"f":0.06},{"lon":187.5,"lat":-22.5,"len":135,"f":0.075},{"lon":187.5,"lat":-22.5,"len":145,"f":0.14},{"lon":187.5,"lat":-22.5,"len":155,"f":0.2},{"lon":187.5,"lat":-22.5,"len":165,"f":0.17},{"lon":187.5,"lat":-22.5,"len":175,"f":0.05},{"lon":187.5,"lat":-22.5,"len":185,"f":0.03},{"lon":187.5,"lat":-22.5,"len":195,"f":0.018},{"lon":187.5,"lat":-22.5,"len":205,"f":0.01},{"lon":187.5,"lat":-22.5,"len":245,"f":0.015},{"lon":187.5,"lat":-22.5,"len":255,"f":0.015},
    {"lon":192.5,"lat":-22.5,"len":115,"f":0.037},{"lon":192.5,"lat":-22.5,"len":125,"f":0.037},{"lon":192.5,"lat":-22.5,"len":155,"f":0.737},{"lon":192.5,"lat":-22.5,"len":165,"f":0.158},{"lon":192.5,"lat":-22.5,"len":215,"f":0.037},{"lon":192.5,"lat":-22.5,"len":225,"f":0.037},
    {"lon":197.5,"lat":-22.5,"len":105,"f":0.036},{"lon":197.5,"lat":-22.5,"len":145,"f":0.07},{"lon":197.5,"lat":-22.5,"len":155,"f":0.32},{"lon":197.5,"lat":-22.5,"len":165,"f":0.32},{"lon":197.5,"lat":-22.5,"len":175,"f":0.16},{"lon":197.5,"lat":-22.5,"len":185,"f":0.07},

    {"lon":162.5,"lat":-27.5,"len":75,"f":0.006},{"lon":162.5,"lat":-27.5,"len":85,"f":0.006},{"lon":162.5,"lat":-27.5,"len":125,"f":0.015},{"lon":162.5,"lat":-27.5,"len":135,"f":0.045},{"lon":162.5,"lat":-27.5,"len":145,"f":0.08},{"lon":162.5,"lat":-27.5,"len":155,"f":0.12},{"lon":162.5,"lat":-27.5,"len":165,"f":0.2},{"lon":162.5,"lat":-27.5,"len":175,"f":0.19},{"lon":162.5,"lat":-27.5,"len":185,"f":0.12},{"lon":162.5,"lat":-27.5,"len":195,"f":0.025},{"lon":162.5,"lat":-27.5,"len":205,"f":0.015},{"lon":162.5,"lat":-27.5,"len":215,"f":0.006},{"lon":162.5,"lat":-27.5,"len":225,"f":0.006},
    {"lon":172.5,"lat":-27.5,"len":125,"f":0.053},{"lon":172.5,"lat":-27.5,"len":135,"f":0.053},{"lon":172.5,"lat":-27.5,"len":145,"f":0.105},{"lon":172.5,"lat":-27.5,"len":155,"f":0.158},{"lon":172.5,"lat":-27.5,"len":165,"f":0.158},{"lon":172.5,"lat":-27.5,"len":175,"f":0.158},{"lon":172.5,"lat":-27.5,"len":185,"f":0.158},{"lon":172.5,"lat":-27.5,"len":195,"f":0.053},
    {"lon":182.5,"lat":-27.5,"len":125,"f":0.055},{"lon":182.5,"lat":-27.5,"len":135,"f":0.055},{"lon":182.5,"lat":-27.5,"len":145,"f":0.11},{"lon":182.5,"lat":-27.5,"len":155,"f":0.11},{"lon":182.5,"lat":-27.5,"len":165,"f":0.11},{"lon":182.5,"lat":-27.5,"len":175,"f":0.11},{"lon":182.5,"lat":-27.5,"len":185,"f":0.11},{"lon":182.5,"lat":-27.5,"len":195,"f":0.3},{"lon":182.5,"lat":-27.5,"len":205,"f":0.055},
    {"lon":187.5,"lat":-27.5,"len":105,"f":0.1},{"lon":187.5,"lat":-27.5,"len":145,"f":0.04},{"lon":187.5,"lat":-27.5,"len":155,"f":0.15},{"lon":187.5,"lat":-27.5,"len":165,"f":0.2},{"lon":187.5,"lat":-27.5,"len":175,"f":0.16},{"lon":187.5,"lat":-27.5,"len":185,"f":0.1},{"lon":187.5,"lat":-27.5,"len":195,"f":0.05},{"lon":187.5,"lat":-27.5,"len":205,"f":0.025},{"lon":187.5,"lat":-27.5,"len":215,"f":0.025},{"lon":187.5,"lat":-27.5,"len":225,"f":0.025},{"lon":187.5,"lat":-27.5,"len":235,"f":0.013},
    {"lon":192.5,"lat":-27.5,"len":125,"f":0.04},{"lon":192.5,"lat":-27.5,"len":135,"f":0.04},{"lon":192.5,"lat":-27.5,"len":145,"f":0.18},{"lon":192.5,"lat":-27.5,"len":155,"f":0.15},{"lon":192.5,"lat":-27.5,"len":165,"f":0.13},{"lon":192.5,"lat":-27.5,"len":175,"f":0.12},{"lon":192.5,"lat":-27.5,"len":185,"f":0.08},{"lon":192.5,"lat":-27.5,"len":195,"f":0.075},{"lon":192.5,"lat":-27.5,"len":205,"f":0.03},{"lon":192.5,"lat":-27.5,"len":215,"f":0.013},
    {"lon":197.5,"lat":-27.5,"len":115,"f":0.027},{"lon":197.5,"lat":-27.5,"len":125,"f":0.027},{"lon":197.5,"lat":-27.5,"len":135,"f":0.04},{"lon":197.5,"lat":-27.5,"len":145,"f":0.14},{"lon":197.5,"lat":-27.5,"len":155,"f":0.19},{"lon":197.5,"lat":-27.5,"len":165,"f":0.2},{"lon":197.5,"lat":-27.5,"len":175,"f":0.1},{"lon":197.5,"lat":-27.5,"len":185,"f":0.05},{"lon":197.5,"lat":-27.5,"len":205,"f":0.16},
    {"lon":202.5,"lat":-27.5,"len":105,"f":0.011},{"lon":202.5,"lat":-27.5,"len":115,"f":0.011},{"lon":202.5,"lat":-27.5,"len":135,"f":0.1},{"lon":202.5,"lat":-27.5,"len":145,"f":0.1},{"lon":202.5,"lat":-27.5,"len":155,"f":0.19},{"lon":202.5,"lat":-27.5,"len":165,"f":0.19},{"lon":202.5,"lat":-27.5,"len":175,"f":0.16},{"lon":202.5,"lat":-27.5,"len":185,"f":0.077},{"lon":202.5,"lat":-27.5,"len":195,"f":0.03},{"lon":202.5,"lat":-27.5,"len":205,"f":0.12},{"lon":202.5,"lat":-27.5,"len":215,"f":0.12},
    {"lon":207.5,"lat":-27.5,"len":145,"f":0.25},{"lon":207.5,"lat":-27.5,"len":155,"f":0.143},{"lon":207.5,"lat":-27.5,"len":165,"f":0.107},{"lon":207.5,"lat":-27.5,"len":175,"f":0.464},{"lon":207.5,"lat":-27.5,"len":185,"f":0.036},
    {"lon":222.5,"lat":-27.5,"len":145,"f":0.33},{"lon":222.5,"lat":-27.5,"len":155,"f":0.27},{"lon":222.5,"lat":-27.5,"len":165,"f":0.13},{"lon":222.5,"lat":-27.5,"len":175,"f":0.13},{"lon":222.5,"lat":-27.5,"len":185,"f":0.067},{"lon":222.5,"lat":-27.5,"len":195,"f":0.067},
    {"lon":227.5,"lat":-27.5,"len":155,"f":0.22},{"lon":227.5,"lat":-27.5,"len":165,"f":0.28},{"lon":227.5,"lat":-27.5,"len":175,"f":0.11},{"lon":227.5,"lat":-27.5,"len":185,"f":0.28},{"lon":227.5,"lat":-27.5,"len":195,"f":0.11},

    {"lon":162.5,"lat":-32.5,"len":155,"f":0.25},{"lon":162.5,"lat":-32.5,"len":165,"f":0.15},{"lon":162.5,"lat":-32.5,"len":175,"f":0.25},{"lon":162.5,"lat":-32.5,"len":185,"f":0.2},{"lon":162.5,"lat":-32.5,"len":195,"f":0.05},{"lon":162.5,"lat":-32.5,"len":255,"f":0.1},
    {"lon":177.5,"lat":-32.5,"len":165,"f":0.077},{"lon":177.5,"lat":-32.5,"len":175,"f":0.23},{"lon":177.5,"lat":-32.5,"len":185,"f":0.23},{"lon":177.5,"lat":-32.5,"len":195,"f":0.23},{"lon":177.5,"lat":-32.5,"len":205,"f":0.154},{"lon":177.5,"lat":-32.5,"len":215,"f":0.077},
    {"lon":187.5,"lat":-32.5,"len":165,"f":0.25},{"lon":187.5,"lat":-32.5,"len":175,"f":0.17},{"lon":187.5,"lat":-32.5,"len":185,"f":0.34},{"lon":187.5,"lat":-32.5,"len":195,"f":0.17},{"lon":187.5,"lat":-32.5,"len":225,"f":0.08},
    {"lon":197.5,"lat":-32.5,"len":155,"f":0.06},{"lon":197.5,"lat":-32.5,"len":165,"f":0.12},{"lon":197.5,"lat":-32.5,"len":175,"f":0.31},{"lon":197.5,"lat":-32.5,"len":185,"f":0.51},{"lon":197.5,"lat":-32.5,"len":195,"f":0.12},{"lon":197.5,"lat":-32.5,"len":205,"f":0.12},
    {"lon":212.5,"lat":-32.5,"len":145,"f":0.034},{"lon":212.5,"lat":-32.5,"len":155,"f":0.24},{"lon":212.5,"lat":-32.5,"len":165,"f":0.41},{"lon":212.5,"lat":-32.5,"len":175,"f":0.24},{"lon":212.5,"lat":-32.5,"len":185,"f":0.034},{"lon":212.5,"lat":-32.5,"len":195,"f":0.034},
    {"lon":232.5,"lat":-32.5,"len":145,"f":0.071},{"lon":232.5,"lat":-32.5,"len":155,"f":0.143},{"lon":232.5,"lat":-32.5,"len":165,"f":0.43},{"lon":232.5,"lat":-32.5,"len":175,"f":0.143},{"lon":232.5,"lat":-32.5,"len":185,"f":0.214},{"lon":232.5,"lat":-32.5,"len":195,"f":0.071},

    {"lon":157.5,"lat":-37.5,"len":105,"f":0.024},{"lon":157.5,"lat":-37.5,"len":145,"f":0.024},{"lon":157.5,"lat":-37.5,"len":155,"f":0.024},{"lon":157.5,"lat":-37.5,"len":165,"f":0.06},{"lon":157.5,"lat":-37.5,"len":175,"f":0.12},{"lon":157.5,"lat":-37.5,"len":185,"f":0.17},{"lon":157.5,"lat":-37.5,"len":195,"f":0.34},{"lon":157.5,"lat":-37.5,"len":205,"f":0.2},
    {"lon":162.5,"lat":-37.5,"len":145,"f":0.02},{"lon":162.5,"lat":-37.5,"len":155,"f":0.06},{"lon":162.5,"lat":-37.5,"len":165,"f":0.1},{"lon":162.5,"lat":-37.5,"len":175,"f":0.13},{"lon":162.5,"lat":-37.5,"len":185,"f":0.17},{"lon":162.5,"lat":-37.5,"len":195,"f":0.12},{"lon":162.5,"lat":-37.5,"len":205,"f":0.06},{"lon":162.5,"lat":-37.5,"len":215,"f":0.03},{"lon":162.5,"lat":-37.5,"len":225,"f":0.02},{"lon":162.5,"lat":-37.5,"len":235,"f":0.007},
    {"lon":222.5,"lat":-37.5,"len":135,"f":0.15},{"lon":222.5,"lat":-37.5,"len":145,"f":0.3},{"lon":222.5,"lat":-37.5,"len":155,"f":0.15},{"lon":222.5,"lat":-37.5,"len":165,"f":0.15},{"lon":222.5,"lat":-37.5,"len":175,"f":0.15},{"lon":222.5,"lat":-37.5,"len":195,"f":0.21},{"lon":222.5,"lat":-37.5,"len":205,"f":0.04},{"lon":222.5,"lat":-37.5,"len":215,"f":0.04},{"lon":222.5,"lat":-37.5,"len":225,"f":0.04}
  ]},
  "spacing": 0,
  "bounds": "flush",
  "facet": {
    "row": {"field": "lat", "type": "ordinal", "sort": "descending", "header": {"labels": false, "title": "Length frequency", "titleOrient": "left", "titlePadding": 4}},
    "column": {"field": "lon", "type": "ordinal", "sort": "ascending", "header": {"labels": false, "title": "Length (cms)", "titleOrient": "bottom", "titlePadding": 2}}
  },
  "spec": {
    "width": 63,
    "height": 64,
    "resolve": {"axis": {"x": "independent", "y": "independent"}},
    "layer": [
      {
        "transform": [{"filter": "datum.len != null"}],
        "mark": {"type": "bar", "fill": "#000000", "stroke": "#000000", "strokeWidth": 0.9, "binSpacing": 0},
        "encoding": {
          "x": {
            "field": "len", "type": "quantitative",
            "bin": {"step": 10, "extent": [50, 300], "nice": false},
            "scale": {"domain": [50, 307], "nice": false, "zero": false},
            "title": null,
            "axis": {
              "orient": "bottom",
              "values": [100, 150, 200, 250, 300],
              "format": "d",
              "labelAngle": -45,
              "labelFontSize": 9,
              "labelOverlap": false,
              "labelBound": false,
              "labelFlush": false,
              "labelPadding": 1,
              "tickSize": 3.5,
              "gridWidth": 1.2
            }
          },
          "y": {
            "field": "f", "type": "quantitative",
            "scale": {"domain": [-0.037, 0.774], "nice": false, "zero": false},
            "title": null,
            "axis": {
              "orient": "left",
              "values": [0, 0.2, 0.4],
              "format": ".1f",
              "labelFontSize": 12.5,
              "labelOverlap": false,
              "labelSeparation": -8,
              "labelFlush": false,
              "labelBound": false,
              "labelPadding": 2,
              "tickSize": 3.5,
              "gridWidth": 1.2
            }
          }
        }
      },
      {
        "transform": [{"filter": "datum.n != null"}],
        "mark": {"type": "text", "color": "#FF0000", "fontSize": 15, "align": "center", "baseline": "middle"},
        "encoding": {
          "x": {"datum": 245, "type": "quantitative", "axis": {"orient": "bottom", "values": [75, 125, 175, 225, 275], "labels": false, "ticks": false, "domain": false, "grid": true, "gridWidth": 0.6, "title": null}},
          "y": {"datum": 0.58, "type": "quantitative", "axis": {"orient": "left", "values": [0.1, 0.3, 0.5, 0.6], "labels": false, "ticks": false, "domain": false, "grid": true, "gridWidth": 0.6, "title": null}},
          "text": {"field": "n", "type": "nominal"}
        }
      },
      {
        "transform": [{"filter": "datum.k === 't'"}],
        "mark": {"type": "rect", "fill": "#D9D9D9", "stroke": "#333333", "strokeWidth": 1.1, "clip": false},
        "encoding": {
          "x": {"datum": 50, "type": "quantitative", "axis": null},
          "x2": {"datum": 307},
          "y": {"datum": 0.774, "type": "quantitative", "axis": null},
          "y2": {"datum": 1.205}
        }
      },
      {
        "transform": [{"filter": "datum.k === 't'"}],
        "mark": {"type": "text", "color": "#1A1A1A", "fontSize": 14, "align": "center", "baseline": "middle", "clip": false},
        "encoding": {
          "x": {"datum": 178.5, "type": "quantitative", "axis": null},
          "y": {"datum": 0.995, "type": "quantitative", "axis": null},
          "text": {"field": "lon", "type": "nominal"}
        }
      },
      {
        "transform": [{"filter": "datum.k === 't' && datum.lon === 142.5"}],
        "mark": {"type": "rect", "fill": "transparent", "stroke": null, "clip": false},
        "encoding": {
          "x": {"datum": -80, "type": "quantitative", "axis": null},
          "x2": {"datum": 50},
          "y": {"datum": 0.774, "type": "quantitative", "axis": null},
          "y2": {"datum": 1.205}
        }
      },
      {
        "transform": [{"filter": "datum.k === 'r'"}],
        "mark": {"type": "rect", "fill": "#D9D9D9", "stroke": "#333333", "strokeWidth": 1.1, "clip": false},
        "encoding": {
          "x": {"datum": 307, "type": "quantitative", "axis": null},
          "x2": {"datum": 437},
          "y": {"datum": -0.037, "type": "quantitative", "axis": null},
          "y2": {"datum": 0.774}
        }
      },
      {
        "transform": [{"filter": "datum.k === 'r' && datum.lat === -37.5"}],
        "mark": {"type": "rect", "fill": "transparent", "stroke": null, "clip": false},
        "encoding": {
          "x": {"datum": 307, "type": "quantitative", "axis": null},
          "x2": {"datum": 437},
          "y": {"datum": -0.037, "type": "quantitative", "axis": null},
          "y2": {"datum": -0.48}
        }
      },
      {
        "transform": [{"filter": "datum.k === 'r'"}],
        "mark": {"type": "text", "color": "#1A1A1A", "fontSize": 14, "align": "center", "baseline": "middle", "angle": 90, "clip": false},
        "encoding": {
          "x": {"datum": 372, "type": "quantitative", "axis": null},
          "y": {"datum": 0.3685, "type": "quantitative", "axis": null},
          "text": {"field": "lat", "type": "nominal"}
        }
      }
    ]
  }
}
